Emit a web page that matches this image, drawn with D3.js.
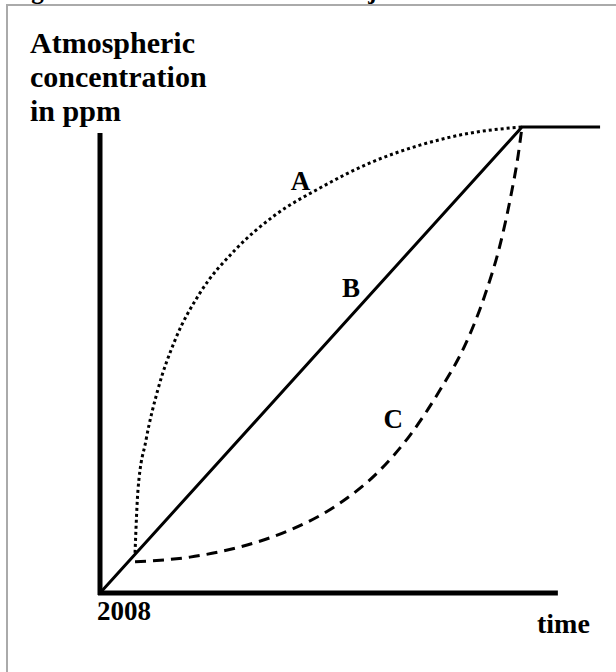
<!DOCTYPE html>
<html>
<head>
<meta charset="utf-8">
<script src="https://cdn.jsdelivr.net/npm/d3@7"></script>
<style>
  body { margin: 0; background: #fff; }
  text { font-family: "Liberation Serif", "Times New Roman", serif; font-weight: bold; fill: #000; }
</style>
</head>
<body>
<div id="chart"></div>
<script>
// time runs 0..100 from 2008 to the stabilisation point, concentration 0..100
const lineB = [[0, 0], [100, 100], [118.5, 100]];
const curveA = [
  [8.3, 8.6], [9.0, 22.1], [10.9, 32.8], [13.7, 43.6], [17.8, 54.3], [23.7, 64.4],
  [32.0, 73.6], [41.5, 81.1], [52.1, 86.9], [64.0, 92.3], [75.8, 96.1], [87.7, 98.7], [100, 100]
];
const curveC = [
  [8.3, 6.7], [21.3, 7.7], [33.2, 9.9], [45.0, 13.5], [56.9, 19.3], [66.4, 26.4],
  [73.5, 33.9], [80.6, 43.6], [86.5, 53.2], [91.2, 63.9], [94.8, 74.7], [97.4, 85.4],
  [99.1, 94.0], [100, 100]
];
const curveLabels = [
  { name: "A", x: 47.5, y: 86.5 },
  { name: "B", x: 59.5, y: 63.5 },
  { name: "C", x: 69.5, y: 35.5 }
];
const yLabelLines = ["Atmospheric", "concentration", "in ppm"];
const startLabel = "2008";
const timeLabel = "time";
const title = "Figure 3: Alternative emission trajectories";

const width = 616, height = 672;

const svg = d3.select("#chart").append("svg")
  .attr("width", width).attr("height", height);

// frame and cut-off title
svg.append("rect")
  .attr("x", 7).attr("y", 5)
  .attr("width", 640).attr("height", 700)
  .attr("fill", "none")
  .attr("stroke", "#aaa")
  .attr("stroke-width", 2);
svg.append("text")
  .attr("x", 9).attr("y", -1)
  .style("font-size", "25px")
  .text(title);

const x = d3.scaleLinear().domain([0, 100]).range([100, 522]);
const y = d3.scaleLinear().domain([0, 100]).range([593, 127]);

// axes: plain thick lines
svg.append("line")
  .attr("x1", x(0)).attr("x2", x(0))
  .attr("y1", y(0) + 2).attr("y2", y(98.7))
  .attr("stroke", "#000").attr("stroke-width", 5);
svg.append("line")
  .attr("x1", x(0) - 2).attr("x2", x(108.5))
  .attr("y1", y(0)).attr("y2", y(0))
  .attr("stroke", "#000").attr("stroke-width", 5);

const line = d3.line().x(d => x(d[0])).y(d => y(d[1]));
const smooth = d3.line().x(d => x(d[0])).y(d => y(d[1])).curve(d3.curveMonotoneX);

svg.append("path")
  .attr("d", line(lineB))
  .attr("fill", "none").attr("stroke", "#000").attr("stroke-width", 3);

svg.append("path")
  .attr("d", smooth(curveA))
  .attr("fill", "none").attr("stroke", "#000").attr("stroke-width", 3)
  .attr("stroke-dasharray", "3 3");

svg.append("path")
  .attr("d", smooth(curveC))
  .attr("fill", "none").attr("stroke", "#000").attr("stroke-width", 3)
  .attr("stroke-dasharray", "11 7");

svg.selectAll("text.curve")
  .data(curveLabels)
  .join("text")
    .attr("class", "curve")
    .attr("x", d => x(d.x))
    .attr("y", d => y(d.y))
    .attr("text-anchor", "middle")
    .style("font-size", "27px")
    .text(d => d.name);

svg.selectAll("text.ylab")
  .data(yLabelLines)
  .join("text")
    .attr("class", "ylab")
    .attr("x", 30)
    .attr("y", (d, i) => 53 + i * 34)
    .style("font-size", "30px")
    .text(d => d);

svg.append("text")
  .attr("x", 97).attr("y", 620)
  .style("font-size", "27px")
  .text(startLabel);

svg.append("text")
  .attr("x", 537).attr("y", 633)
  .style("font-size", "28px")
  .text(timeLabel);
</script>
</body>
</html>
